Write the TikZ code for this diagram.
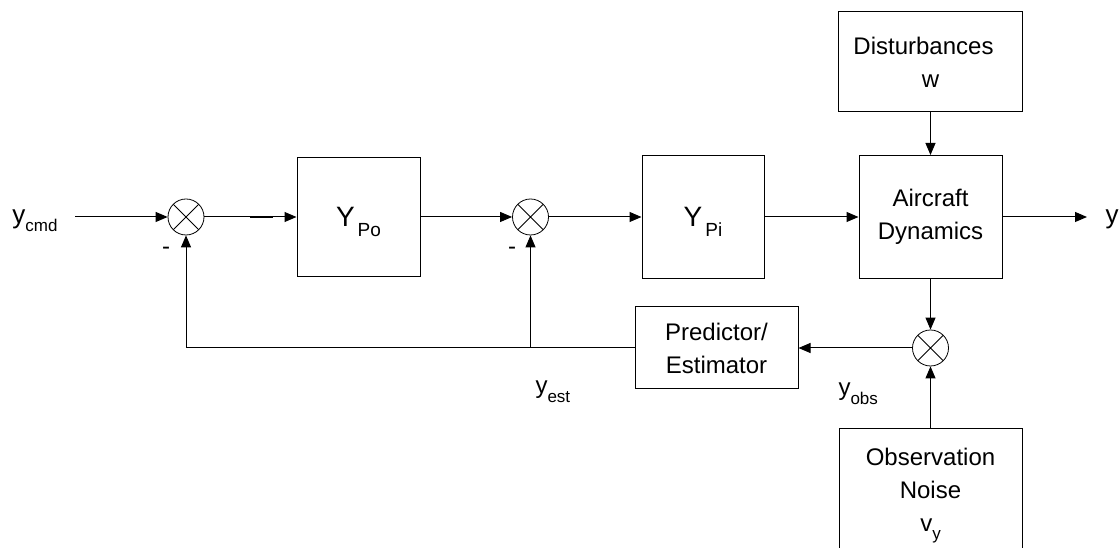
\documentclass[tikz,border=0pt]{standalone}
\usepackage{fontspec}
\setmainfont{Liberation Sans}
\usetikzlibrary{arrows.meta,calc}

% lowered small text: #1 drop, #2 size, #3 text
\newcommand{\lowtext}[3]{\raisebox{-#1}[0pt][0pt]{\fontsize{#2}{#2}\selectfont #3}}

\begin{document}
\begin{tikzpicture}[x=1pt,y=1pt,line width=1pt,
    >={Triangle[length=12pt,width=10pt]},
    block/.style={draw, inner sep=0pt, align=center, font=\fontsize{24}{33}\selectfont},
    sumnode/.style={draw, circle, line width=0.8pt, minimum size=36pt, inner sep=0pt,
      path picture={\draw[line width=0.8pt] (path picture bounding box.center) +(45:20) -- +(225:20)
        (path picture bounding box.center) +(135:20) -- +(-45:20);}},
    lbl/.style={inner sep=0pt, font=\fontsize{24}{24}\selectfont}]
        \clip (0, 0) rectangle (1120, 548);

        % blocks
        \node [block, minimum width=184pt, minimum height=100pt] (dist) at (930.5, 486)
              {Disturbances\hspace*{14pt}\\w};
        \node [block, minimum width=123pt, minimum height=119pt] (po) at (358.5, 331)
              {\fontsize{28}{28}\selectfont Y\hspace{3pt}\lowtext{10pt}{19}{Po}};
        \node [block, minimum width=122pt, minimum height=123pt] (pi) at (703, 331)
              {\fontsize{28}{28}\selectfont Y\hspace{3pt}\lowtext{10pt}{19}{Pi}};
        \node [block, minimum width=143pt, minimum height=123pt] (ac) at (930.5, 331) {Aircraft\\Dynamics};
        \node [block, minimum width=163pt, minimum height=82pt] (est) at (716.5, 200) {Predictor/\\Estimator};
        \node [block, minimum width=183pt, minimum height=122pt] (noise) at (930.5, 58)
              {Observation\\Noise\\v\lowtext{8pt}{17}{y}};

        % summing junctions
        \node [sumnode] (s1) at (186, 331) {};
        \node [sumnode] (s2) at (530.5, 331) {};
        \node [sumnode] (s3) at (930.5, 200) {};

        % signal labels
        \node [lbl, anchor=base west] (ycmd) at (12, 324) {\fontsize{26}{26}\selectfont y\lowtext{8pt}{17}{cmd}};
        \node [lbl, anchor=base west] (yy) at (1105, 324.5) {\fontsize{26}{26}\selectfont y};
        \node [lbl, anchor=base west] (yest) at (535, 154) {y\lowtext{9pt}{17}{est}};
        \node [lbl, anchor=base west] (yobs) at (838, 152.5) {y\lowtext{9pt}{17}{obs}};
        \node [lbl, anchor=base] (m1) at (166, 293.5) {-};
        \node [lbl, anchor=base] (m2) at (512, 293.5) {-};

        \coordinate (cmdin) at (75, 331);
        \coordinate (yout) at (1087, 331);

        % forward path
        \draw [->] (cmdin) -- (s1.west);
        \draw [->] (s1.east) -- (po.west);
        \draw [line width=2pt] ($(s1.east)!0.5!(po.west)$) -- ($(s1.east)!0.74!(po.west)$);
        \draw [->] (po.east) -- (s2.west);
        \draw [->] (s2.east) -- (pi.west);
        \draw [->] (pi.east) -- (ac.west);
        \draw [->] (ac.east) -- (yout);
        \draw [->] (dist.south) -- (ac.north);

        % observation and feedback
        \draw [->] (ac.south) -- (s3.north);
        \draw [->] (noise.north) -- (s3.south);
        \draw [->] (s3.west) -- (est.east);
        \draw [->] (est.west) -| (s1.south);
        \draw [->] (s2 |- est.west) -- (s2.south);
      \end{tikzpicture}
\end{document}
